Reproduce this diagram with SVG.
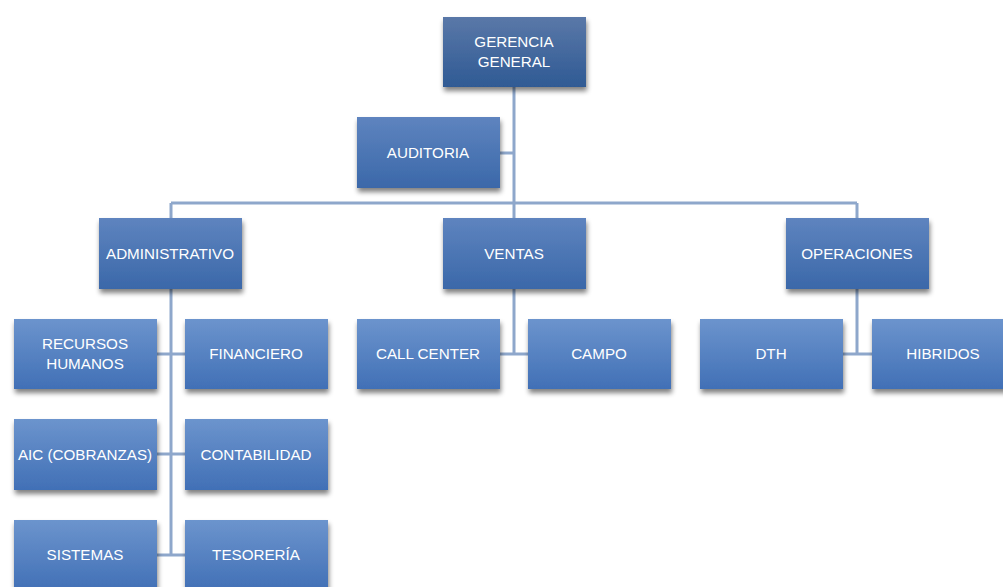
<svg xmlns="http://www.w3.org/2000/svg" width="1003" height="587" viewBox="0 0 1003 587">
<defs>
<linearGradient id="g0" x1="0" y1="0" x2="0" y2="1"><stop offset="0" stop-color="#5a78a8"/><stop offset="1" stop-color="#2f5a94"/></linearGradient>
<linearGradient id="g1" x1="0" y1="0" x2="0" y2="1"><stop offset="0" stop-color="#5e84bf"/><stop offset="1" stop-color="#3b68a9"/></linearGradient>
<linearGradient id="g2" x1="0" y1="0" x2="0" y2="1"><stop offset="0" stop-color="#6c94cd"/><stop offset="1" stop-color="#4170b6"/></linearGradient>
<filter id="sh" x="-10%" y="-10%" width="125%" height="135%"><feGaussianBlur in="SourceAlpha" stdDeviation="2.5"/><feOffset dx="1" dy="4"/><feComponentTransfer><feFuncA type="linear" slope="0.5"/></feComponentTransfer><feMerge><feMergeNode/><feMergeNode in="SourceGraphic"/></feMerge></filter>
</defs>
<style>
.c{stroke:#8ea7cb;stroke-width:3;fill:none}
text{font-family:"Liberation Sans",Arial,sans-serif;font-size:15.2px;fill:#ffffff;text-anchor:middle}
.b{filter:url(#sh)}
</style>
<rect width="1003" height="587" fill="#ffffff"/>
<g id="connectors">
<path class="c" d="M514 87V218M500 153H514M171 203H857M171 203V218M857 203V218M171 289V555M157 354H185M157 454H185M157 555H185M514 289V354M500 354H528M857 289V354M843 354H872"/>
</g>
<g id="gerencia"><rect class="b" x="443" y="17" width="143" height="70" fill="url(#g0)"/><text x="514" y="47">GERENCIA</text><text x="514" y="67">GENERAL</text></g>
<g id="auditoria"><rect class="b" x="357" y="117" width="143" height="71" fill="url(#g1)"/><text x="428" y="158">AUDITORIA</text></g>
<g id="administrativo"><rect class="b" x="99" y="218" width="143" height="71" fill="url(#g1)"/><text x="170" y="259">ADMINISTRATIVO</text></g>
<g id="ventas"><rect class="b" x="443" y="218" width="143" height="71" fill="url(#g1)"/><text x="514" y="259">VENTAS</text></g>
<g id="operaciones"><rect class="b" x="786" y="218" width="143" height="71" fill="url(#g1)"/><text x="857" y="259">OPERACIONES</text></g>
<g id="rrhh"><rect class="b" x="14" y="319" width="143" height="70" fill="url(#g2)"/><text x="85" y="349">RECURSOS</text><text x="85" y="369">HUMANOS</text></g>
<g id="financiero"><rect class="b" x="185" y="319" width="143" height="70" fill="url(#g2)"/><text x="256" y="359">FINANCIERO</text></g>
<g id="aic"><rect class="b" x="14" y="419" width="143" height="71" fill="url(#g2)"/><text x="85" y="460">AIC (COBRANZAS)</text></g>
<g id="contabilidad"><rect class="b" x="185" y="419" width="143" height="71" fill="url(#g2)"/><text x="256" y="460">CONTABILIDAD</text></g>
<g id="sistemas"><rect class="b" x="14" y="520" width="143" height="71" fill="url(#g2)"/><text x="85" y="560">SISTEMAS</text></g>
<g id="tesoreria"><rect class="b" x="185" y="520" width="143" height="71" fill="url(#g2)"/><text x="256" y="560">TESORERÍA</text></g>
<g id="callcenter"><rect class="b" x="357" y="319" width="143" height="70" fill="url(#g2)"/><text x="428" y="359">CALL CENTER</text></g>
<g id="campo"><rect class="b" x="528" y="319" width="143" height="70" fill="url(#g2)"/><text x="599" y="359">CAMPO</text></g>
<g id="dth"><rect class="b" x="700" y="319" width="143" height="70" fill="url(#g2)"/><text x="771" y="359">DTH</text></g>
<g id="hibridos"><rect class="b" x="872" y="319" width="143" height="70" fill="url(#g2)"/><text x="943" y="359">HIBRIDOS</text></g>
</svg>
